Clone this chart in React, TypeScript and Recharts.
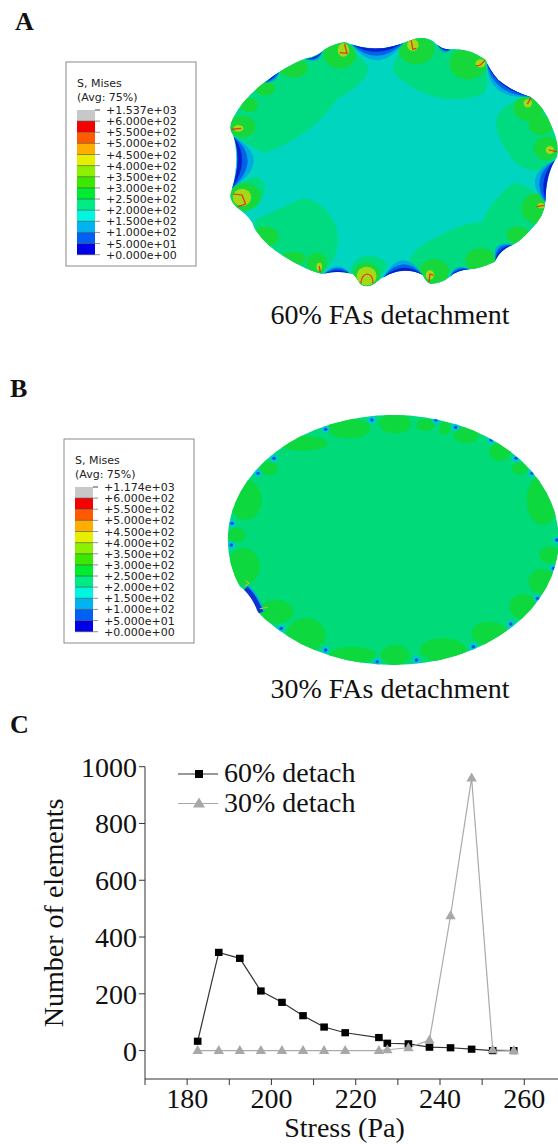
import { LineChart, Line, XAxis, YAxis, Legend, Label } from "recharts"

// line chart values (panel C)
const stress = [182.5, 187.5, 192.5, 197.5, 202.5, 207.5, 212.5, 217.5, 225.5, 227.5, 232.5, 237.5, 242.5, 247.5, 252.5, 257.5]
const detach60 = [33, 346, 325, 210, 170, 123, 83, 63, 46, 26, 24, 12, 10, 5, 0, 0]
const detach30 = [0, 0, 0, 0, 0, 0, 0, 0, 0, 3, 10, 37, 475, 960, 3, 0]
const xTicks = [170, 180, 190, 200, 210, 220, 230, 240, 250, 260]
const yTicks = [0, 200, 400, 600, 800, 1000]
const chartData = stress.map((s, i) => ({ s, d60: detach60[i], d30: detach30[i] }))

// contour key
const keyColors = ["#c8c8c8", "#f60000", "#ff5a00", "#ffae00", "#e6ef00", "#8cf000", "#3ae800", "#00ec30", "#00ea86", "#00f6e0", "#00b4f0", "#0060f4", "#0000e8"]
const keyLabels = ["+6.000e+02", "+5.500e+02", "+5.000e+02", "+4.500e+02", "+4.000e+02", "+3.500e+02", "+3.000e+02", "+2.500e+02", "+2.000e+02", "+1.500e+02", "+1.000e+02", "+5.000e+01", "+0.000e+00"]

const serif = "'Liberation Serif', serif"
const sans = "'DejaVu Sans', sans-serif"

// panel A outline, in zoomed crop units
const outlineA = "M1150 122 Q1190 105 1218 125 Q1240 150 1270 148 Q1320 145 1365 180 Q1375 210 1400 240 Q1440 275 1490 290 Q1530 320 1550 380 Q1572 430 1565 470 Q1535 520 1532 605 Q1530 650 1490 690 Q1460 725 1440 735 Q1405 750 1390 785 Q1350 805 1320 808 Q1285 810 1265 830 Q1240 850 1210 852 Q1195 845 1188 825 Q1120 790 1050 852 Q1030 865 1012 852 Q1000 830 992 822 Q950 810 905 822 Q860 810 800 770 Q750 740 718 690 Q705 650 665 622 Q640 595 650 575 Q675 480 655 405 Q640 385 655 355 Q680 300 740 250 Q800 200 860 175 Q890 170 910 150 Q940 130 970 127 Q1060 165 1150 122 Z"
// start, control, end and inward push of each blue crescent
const edgesA = [
  [985, 130, 1060, 165, 1140, 122, 0, 1, 1],
  [1225, 128, 1245, 150, 1268, 148, 0, 1, 0.35],
  [1368, 190, 1405, 255, 1490, 290, -0.6, 0.8, 0.8],
  [1560, 480, 1530, 530, 1535, 610, -1, 0, 1],
  [1440, 735, 1405, 750, 1392, 782, -0.6, -0.8, 0.6],
  [1320, 808, 1285, 810, 1265, 830, -0.3, -0.9, 0.4],
  [1188, 825, 1130, 795, 1075, 835, 0, -1, 0.9],
  [985, 822, 950, 810, 910, 822, 0, -1, 0.5],
  [652, 565, 680, 480, 657, 410, 1, 0, 1.3],
  [860, 178, 890, 172, 905, 155, 0.3, 0.9, 0.35],
  [745, 248, 765, 228, 785, 215, 0.6, 0.8, 0.35],
]
const lobesA = [
  "M640 400 L740 458 Q780 450 860 395 Q920 345 945 300 Q1040 240 1035 200 L960 110 L640 300 Z",
  "M1150 110 Q1100 190 1105 215 Q1140 260 1220 290 Q1300 310 1360 280 Q1375 250 1365 190 L1290 120 Z",
  "M1568 280 L1480 295 Q1400 310 1392 370 Q1400 430 1450 490 Q1490 520 1520 510 L1568 480 Z",
  "M1540 640 Q1500 550 1440 550 Q1380 600 1355 665 Q1290 670 1230 710 Q1160 745 1150 780 Q1155 810 1190 830 L1400 800 Z",
  "M715 660 Q800 620 850 595 Q910 600 945 680 Q960 740 930 790 L900 830 L780 770 L710 690 Z",
  "M650 580 Q690 530 725 530 Q750 550 745 580 Q700 640 680 640 Z",
  "M985 820 Q985 780 1030 765 Q1080 770 1088 800 L1040 870 Z",
]
const tabsA = [
  [955, 165, 45, 40], [825, 205, 40, 28], [745, 265, 28, 22], [700, 315, 25, 22], [680, 380, 38, 32],
  [1170, 150, 50, 42], [1315, 190, 52, 48], [1485, 325, 42, 38], [1520, 375, 35, 30], [1535, 445, 35, 35],
  [1510, 625, 45, 45], [1455, 705, 32, 25], [1350, 780, 42, 35], [1220, 815, 42, 38], [1030, 825, 38, 38],
  [890, 790, 28, 32], [825, 775, 35, 20], [745, 710, 38, 30], [685, 590, 48, 42],
]
const hotA = [
  [1030, 828, 28, 28], [680, 592, 26, 26], [1160, 135, 16, 18], [965, 150, 16, 20], [1350, 190, 14, 12],
  [1483, 310, 12, 12], [1545, 450, 12, 12], [670, 385, 14, 10], [1208, 825, 12, 14], [897, 800, 8, 12], [1520, 617, 10, 8],
]
const sparksA = [
  "M1014 850 Q1016 824 1032 822 Q1048 824 1048 850", "M655 582 L680 585 L690 612 L668 620", "M1155 120 L1160 148 L1170 145",
  "M968 132 L975 160 L955 158", "M1362 182 L1350 195 L1338 198", "M1492 292 L1482 312", "M1565 455 L1542 450", "M650 388 L678 385",
  "M1205 848 L1208 822 L1218 826", "M900 818 L897 798", "M1535 615 L1508 620",
]

// panel B
const lobesB = [
  [980, 175, 60, 30], [1110, 160, 45, 30], [1195, 165, 25, 18], [1250, 175, 15, 20], [1310, 195, 35, 25], [1405, 245, 30, 28],
  [1460, 295, 22, 18], [1525, 390, 45, 75], [1545, 555, 30, 25], [1525, 635, 40, 38], [1470, 710, 38, 38], [1375, 790, 50, 35],
  [1245, 840, 65, 35], [1110, 855, 40, 30], [990, 855, 65, 25], [860, 795, 55, 50], [775, 725, 50, 35], [685, 590, 45, 55],
  [665, 495, 25, 22], [690, 390, 45, 60], [755, 295, 25, 20], [850, 220, 70, 22],
]
const gapsB = [
  [1045, 150], [915, 178], [770, 265], [725, 310], [652, 460], [650, 525], [1225, 150], [1280, 172], [1380, 210], [1450, 265], [1495, 310],
  [1565, 510], [1555, 595], [1510, 685], [1435, 762], [1330, 830], [1170, 870], [1060, 875], [915, 840], [790, 775],
]

function ContourKey({ x, y, top }: { x: number; y: number; top: string }) {
  const row = 11.13
  const barX = x + 11
  const barY = y + 48
  return (
    <g fontFamily={sans} fontSize={11} fill="#222">
      <rect x={x} y={y} width={130} height={204} fill="#fff" stroke="#8a8a8a" strokeWidth={1} />
      <text x={barX} y={y + 25}>S, Mises</text>
      <text x={barX} y={y + 39}>(Avg: 75%)</text>
      {keyColors.map((c, i) => (
        <rect key={c} x={barX} y={barY + i * row} width={18} height={row} fill={c} />
      ))}
      <line x1={barX + 18} x2={barX + 23} y1={barY} y2={barY} stroke="#444" />
      <text x={barX + 29} y={barY + 4}>{top}</text>
      {keyLabels.map((l, i) => (
        <g key={l}>
          <line x1={barX} x2={barX + 23} y1={barY + (i + 1) * row} y2={barY + (i + 1) * row} stroke="#444" strokeWidth={0.6} />
          <text x={barX + 29} y={barY + (i + 1) * row + 4}>{l}</text>
        </g>
      ))}
    </g>
  )
}

function crescent([x0, y0, cx, cy, x1, y1, nx, ny, k]: number[], depth: number) {
  const d = depth * k
  return `M${x0} ${y0} Q${cx} ${cy} ${x1} ${y1} Q${cx + nx * d} ${cy + ny * d} ${x0} ${y0} Z`
}

function PanelA() {
  return (
    <g transform="scale(0.3559,0.3333)" filter="url(#soft)">
      <path d={outlineA} fill="#00d6bf" />
      <g clipPath="url(#clipA)">
        {lobesA.map(d => <path key={d} d={d} fill="#06da80" />)}
        {tabsA.map(([cx, cy, rx, ry]) => <ellipse key={`${cx}-${cy}`} cx={cx} cy={cy} rx={rx} ry={ry} fill="#14d83a" />)}
        {hotA.map(([cx, cy, rx, ry]) => <ellipse key={`${cx}-${cy}`} cx={cx} cy={cy} rx={rx} ry={ry} fill="#a6d818" />)}
        {edgesA.map(e => (
          <g key={e.join("-")}>
            <path d={crescent(e, 70)} fill="#00a8e4" />
            <path d={crescent(e, 44)} fill="#0064e6" />
            <path d={crescent(e, 20)} fill="#0a1ed0" />
          </g>
        ))}
        {sparksA.map(d => <path key={d} d={d} fill="none" stroke="#e8301c" strokeWidth={3.5} />)}
      </g>
    </g>
  )
}

function PanelB() {
  return (
    <g transform="translate(0,370) scale(0.3559,0.3333)" filter="url(#soft)">
      <ellipse cx={1105} cy={510} rx={465} ry={375} fill="#00da78" />
      <g clipPath="url(#clipB)">
        {lobesB.map(([cx, cy, rx, ry]) => <ellipse key={`${cx}-${cy}`} cx={cx} cy={cy} rx={rx} ry={ry} fill="#0cd83c" />)}
        {gapsB.map(([cx, cy]) => (
          <g key={`${cx}-${cy}`}>
            <circle cx={cx} cy={cy} r={11} fill="#00c8d8" />
            <circle cx={cx} cy={cy} r={5} fill="#0a50dc" />
          </g>
        ))}
        <path d="M690 655 Q715 680 732 728" fill="none" stroke="#00b0e0" strokeWidth={26} />
        <path d="M690 655 Q715 680 732 728" fill="none" stroke="#0a30d0" strokeWidth={16} />
      </g>
      <path d="M660 640 Q705 665 728 736 L660 736 Z" fill="#fff" />
      <path d="M690 632 L700 640 L688 648 M730 716 L752 712" fill="none" stroke="#c8c030" strokeWidth={3} />
    </g>
  )
}

function DetachLegend({ payload }: any) {
  return (
    <svg width={420} height={90} style={{ display: "block" }}>
      {(payload || []).map((item: any, i: number) => {
        const y = 34 + i * 29.5
        return (
          <g key={item.value}>
            <line x1={178} x2={218} y1={y} y2={y} stroke={item.color} strokeWidth={1.2} />
            {i === 0
              ? <rect x={195} y={y - 4} width={8} height={8} fill="#000" />
              : <polygon points={`${199},${y - 6} ${205},${y + 4} ${193},${y + 4}`} fill="#a8a8a8" />}
            <text x={224} y={y + 8} fontFamily={serif} fontSize={28} fill="#111">{item.value}</text>
          </g>
        )
      })}
    </svg>
  )
}

const SquareDot = ({ cx, cy }: any) => <rect key={`${cx}`} x={cx - 3.8} y={cy - 3.6} width={7.6} height={7.2} fill="#000" />
const TriangleDot = ({ cx, cy }: any) => (
  <polygon key={`${cx}`} points={`${cx},${cy - 5.5} ${cx + 5.2},${cy + 3.5} ${cx - 5.2},${cy + 3.5}`} fill="#a8a8a8" />
)

const axisTick = { fill: "#111", fontFamily: serif, fontSize: 28 }

export default function App() {
  return (
    <div style={{ position: "absolute", left: 0, top: 0, width: 558, height: 1144, overflow: "hidden", background: "#fff" }}>
      <svg width={558} height={1144} style={{ position: "absolute", left: 0, top: 0 }}>
        <defs>
          <filter id="soft"><feGaussianBlur stdDeviation="1.2" /></filter>
          <clipPath id="clipA"><path d={outlineA} /></clipPath>
          <clipPath id="clipB"><ellipse cx={1105} cy={510} rx={465} ry={375} /></clipPath>
        </defs>
        <g fontFamily={serif} fontWeight="bold" fontSize={26} fill="#111">
          <text x={15} y={30}>A</text>
          <text x={10} y={397}>B</text>
          <text x={10} y={733}>C</text>
        </g>
        <ContourKey x={66} y={62} top="+1.537e+03" />
        <PanelA />
        <ContourKey x={64} y={439} top="+1.174e+03" />
        <PanelB />
        <g fontFamily={serif} fontSize={28} fill="#111" textAnchor="middle">
          <text x={390} y={324}>60% FAs detachment</text>
          <text x={390} y={698}>30% FAs detachment</text>
        </g>
      </svg>
      <div style={{ position: "absolute", left: 0, top: 740 }}>
        <LineChart width={558} height={404} data={chartData} margin={{ top: 26.7, right: 0, bottom: 0, left: 0 }}>
          <XAxis
            dataKey="s"
            type="number"
            domain={[170, 268]}
            ticks={xTicks}
            interval={0}
            height={65}
            tick={axisTick}
            tickSize={6}
            tickMargin={3}
            stroke="#333"
            tickFormatter={v => (v % 20 === 0 ? String(v) : "")}
          >
            <Label value="Stress (Pa)" position="insideBottom" offset={7} dx={-7} style={axisTick} />
          </XAxis>
          <YAxis
            type="number"
            domain={[-100, 1000]}
            ticks={yTicks}
            interval={0}
            width={145}
            tick={axisTick}
            tickSize={6}
            tickMargin={2}
            stroke="#333"
          >
            <Label value="Number of elements" angle={-90} position="insideLeft" offset={53} dy={-10} style={{ ...axisTick, textAnchor: "middle" }} />
          </YAxis>
          <Legend layout="vertical" align="center" verticalAlign="middle" itemSorter={null} content={<DetachLegend />} wrapperStyle={{ left: 0, top: 0, width: 420 }} />
          <Line dataKey="d60" name="60% detach" stroke="#333" strokeWidth={1.2} dot={SquareDot} isAnimationActive={false} />
          <Line dataKey="d30" name="30% detach" stroke="#aaa" strokeWidth={1.2} dot={TriangleDot} isAnimationActive={false} />
        </LineChart>
      </div>
    </div>
  )
}
